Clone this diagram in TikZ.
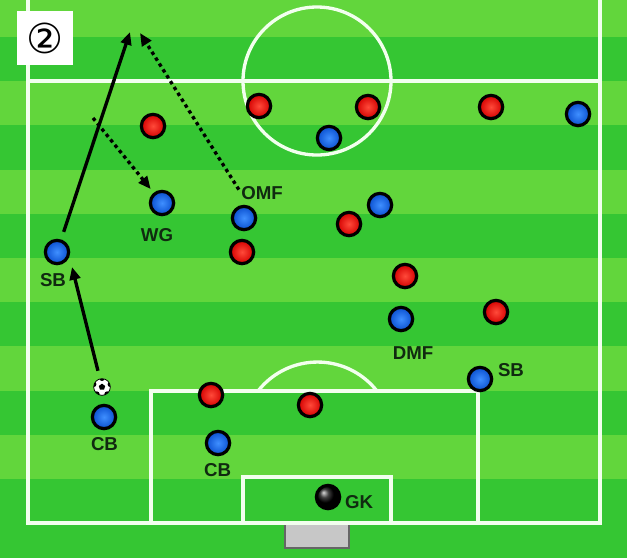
\documentclass[tikz,border=0pt]{standalone}
\usepackage{fontspec}
\setmainfont{Liberation Sans}
\newfontfamily\symfont{DejaVu Sans}
\usetikzlibrary{arrows.meta,shapes.geometric}
\definecolor{turf}{HTML}{62D63C}
\definecolor{turfdark}{HTML}{35C633}
\definecolor{chalk}{HTML}{F2FFEE}
\definecolor{ink}{HTML}{102A10}
\definecolor{redout}{HTML}{D40000}
\definecolor{redin}{HTML}{FF4A3A}
\definecolor{blueout}{HTML}{0A4FCF}
\definecolor{bluein}{HTML}{3F8FFF}
\tikzset{
  pitchline/.style={draw=chalk,line width=2.5pt},
  player/.style={circle,draw=black,line width=2.4pt,minimum size=17.5pt,inner sep=0pt},
  redp/.style={player,inner color=redin,outer color=redout},
  bluep/.style={player,inner color=bluein,outer color=blueout},
  tag/.style={font=\fontsize{14}{16}\selectfont\bfseries,text=ink,inner sep=0pt},
  run/.style={line width=2.5pt,-{Triangle[length=9.5pt,width=8pt]}},
  dotrun/.style={run,dash pattern=on 2.6pt off 2.6pt}
}
\begin{document}
\begin{tikzpicture}[x=0.75pt,y=-0.75pt]
  \useasboundingbox (0,0) rectangle (627,558);
  % grass
  \fill[turf] (0,0) rectangle (627,558);
  \foreach \y in {37,125.4,213.8,302.2,390.6}
    \fill[turfdark] (0,\y) rectangle (627,\y+44.2);
  \fill[turfdark] (0,479) rectangle (627,558);
  % goal
  \filldraw[fill=black!22,draw=black!60,line width=0.8pt] (285,523) rectangle (349,548);
  % lines
  \draw[pitchline] (28,0) -- (28,523) -- (600,523) -- (600,0);
  \draw[pitchline] (28,81) -- (600,81);
  \draw[pitchline] (317,81) circle[radius=55.5pt];
  \draw[pitchline] (151,523) -- (151,391) -- (478,391) -- (478,523);
  \draw[pitchline] (243,523) -- (243,477) -- (391,477) -- (391,523);
  \begin{scope}
    \clip (0,0) rectangle (627,391);
    \draw[pitchline] (317.5,437.5) circle[radius=56.6pt];
  \end{scope}
  % number
  \node[fill=white,minimum width=42pt,minimum height=40.5pt,inner sep=0pt] (num) at (45,38)
    {\symfont\fontsize{31}{31}\selectfont ②};
  % red team
  \node[redp] (r1) at (153,126) {};
  \node[redp] (r2) at (259,106) {};
  \node[redp] (r3) at (368,107) {};
  \node[redp] (r4) at (491,107) {};
  \node[redp] (r5) at (349,224) {};
  \node[redp] (r6) at (242,252) {};
  \node[redp] (r7) at (405,276) {};
  \node[redp] (r8) at (496,312) {};
  \node[redp] (r9) at (211,395) {};
  \node[redp] (r10) at (310,405) {};
  % blue team
  \node[bluep] (b1) at (329,138) {};
  \node[bluep] (b2) at (578,114) {};
  \node[bluep] (b3) at (380,205) {};
  \node[bluep] (wg) at (162,203) {};
  \node[bluep] (omf) at (244,218) {};
  \node[bluep] (sb) at (57,252) {};
  \node[bluep] (dmf) at (401,319) {};
  \node[bluep] (sbr) at (480,379) {};
  \node[bluep] (cb) at (104,417) {};
  \node[bluep] (cbr) at (218,443) {};
  \node[player,shading=ball,ball color=black] (gk) at (328,497) {};
  % labels
  \node[tag] (wglab) at (157,235.5) {WG};
  \node[tag] (omflab) at (262,193) {OMF};
  \node[tag] (sblab) at (53,280) {SB};
  \node[tag] (dmflab) at (413,353) {DMF};
  \node[tag] (sbrlab) at (511,370) {SB};
  \node[tag] (cblab) at (104.5,444) {CB};
  \node[tag] (cbrlab) at (217.5,470.5) {CB};
  \node[tag] (gklab) at (359,502) {GK};
  % ball
  \node[circle,fill=white,draw=black,line width=0.6pt,minimum size=12.5pt,inner sep=0pt] (ball) at (102,387) {};
  \begin{scope}
    \clip (ball) circle (6.2pt);
    \node[regular polygon,regular polygon sides=5,fill=black,minimum size=5pt,inner sep=0pt] (spot) at (ball) {};
    \foreach \a in {18,90,162,234,306}
      \fill (ball.center) ++(\a:6.6pt) circle (2.1pt);
  \end{scope}
  % runs
  \coordinate (sbgoal) at (130,32);
  \coordinate (omfgoal) at (140,33);
  \coordinate (wgfrom) at (93,118);
  \coordinate (sbto) at (72,267);
  \draw[run,shorten <=6pt] (sb) -- (sbgoal);
  \draw[run,shorten <=6pt] (ball) -- (sbto);
  \draw[dotrun,shorten <=3pt] (omflab.west) -- (omfgoal);
  \draw[dotrun,shorten >=3.5pt] (wgfrom) -- (wg);
\end{tikzpicture}
\end{document}
